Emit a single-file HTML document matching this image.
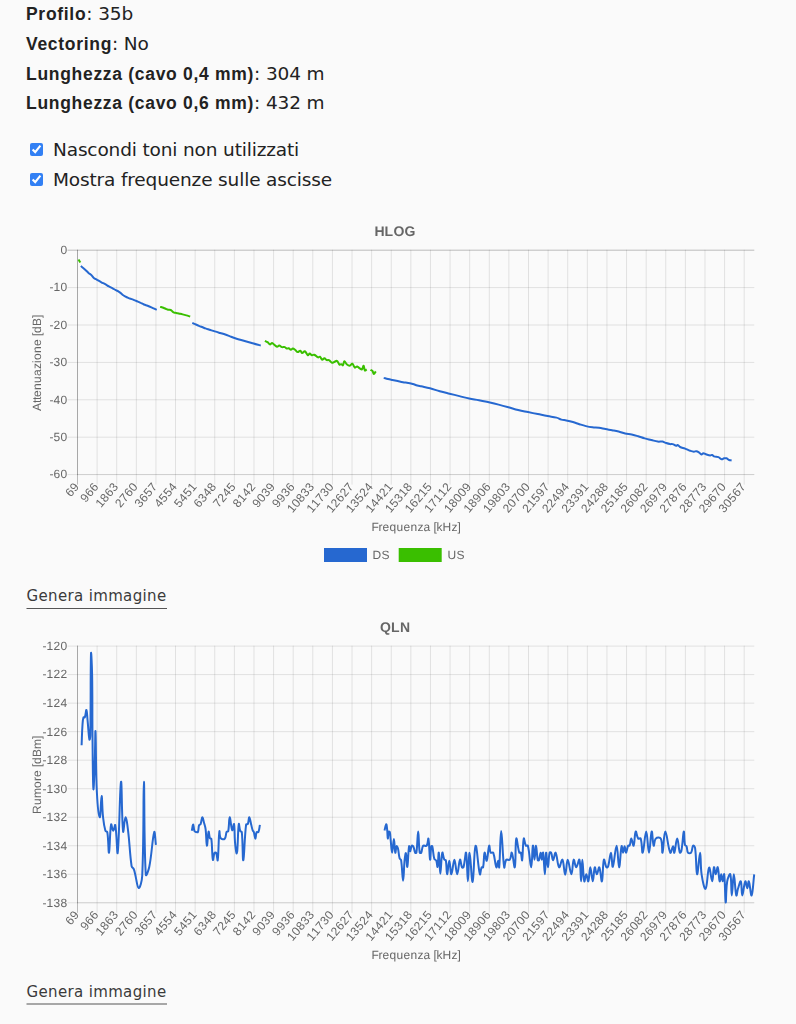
<!DOCTYPE html>
<html><head><meta charset="utf-8"><title>Statistiche linea</title>
<style>
html,body{margin:0;padding:0;background:#fafafa;}
body{width:796px;height:1024px;overflow:hidden;position:relative;color:#222;font-family:"DejaVu Sans","Liberation Sans",sans-serif;}
.ln{position:absolute;left:26px;font-size:18.5px;letter-spacing:-0.15px;line-height:18px;white-space:nowrap;}
.ln b{font-family:"Liberation Sans",sans-serif;font-size:17.5px;letter-spacing:0.7px;}
.cb{position:absolute;left:30px;margin:0;width:13px;height:13px;accent-color:#3280f4;}
.lab{position:absolute;left:53px;font-size:18.5px;letter-spacing:-0.15px;line-height:18px;white-space:nowrap;}
.gen{position:absolute;left:26.5px;font-size:15px;letter-spacing:0.35px;line-height:16px;color:#3a3a3a;white-space:nowrap;}
svg{position:absolute;left:0;top:0;will-change:transform;}
svg .t{text-rendering:geometricPrecision;font-family:"Liberation Sans",Arial,sans-serif;font-size:12px;fill:#666;}
svg .ti{text-rendering:geometricPrecision;font-family:"Liberation Sans",Arial,sans-serif;font-size:14px;font-weight:bold;fill:#666;}
</style></head><body>
<div class="ln" style="top:5px"><b>Profilo</b>: 35b</div>
<div class="ln" style="top:35.4px"><b>Vectoring</b>: No</div>
<div class="ln" style="top:64.6px"><b>Lunghezza (cavo 0,4 mm)</b>: 304 m</div>
<div class="ln" style="top:93.9px"><b>Lunghezza (cavo 0,6 mm)</b>: 432 m</div>
<input class="cb" type="checkbox" checked style="top:143px">
<div class="lab" style="top:140.8px">Nascondi toni non utilizzati</div>
<input class="cb" type="checkbox" checked style="top:173.4px">
<div class="lab" style="top:171.2px">Mostra frequenze sulle ascisse</div>
<div class="gen" style="top:588px">Genera immagine</div>
<div class="gen" style="top:983.5px">Genera immagine</div>

<svg width="796" height="1024" viewBox="0 0 796 1024">
<line x1="67.5" y1="250.2" x2="754.3" y2="250.2" stroke="rgba(0,0,0,0.25)"/>
<text x="60.50" y="254.0" class="t">0</text>
<line x1="67.5" y1="287.6" x2="754.3" y2="287.6" stroke="rgba(0,0,0,0.1)"/>
<text x="49.50 53.50 60.50" y="291.4" class="t">-10</text>
<line x1="67.5" y1="325.0" x2="754.3" y2="325.0" stroke="rgba(0,0,0,0.1)"/>
<text x="49.50 53.50 60.50" y="328.8" class="t">-20</text>
<line x1="67.5" y1="362.4" x2="754.3" y2="362.4" stroke="rgba(0,0,0,0.1)"/>
<text x="49.50 53.50 60.50" y="366.2" class="t">-30</text>
<line x1="67.5" y1="399.8" x2="754.3" y2="399.8" stroke="rgba(0,0,0,0.1)"/>
<text x="49.50 53.50 60.50" y="403.6" class="t">-40</text>
<line x1="67.5" y1="437.2" x2="754.3" y2="437.2" stroke="rgba(0,0,0,0.1)"/>
<text x="49.50 53.50 60.50" y="441.0" class="t">-50</text>
<line x1="67.5" y1="474.6" x2="754.3" y2="474.6" stroke="rgba(0,0,0,0.1)"/>
<text x="49.50 53.50 60.50" y="478.4" class="t">-60</text>
<line x1="77.5" y1="249.7" x2="77.5" y2="484.6" stroke="rgba(0,0,0,0.25)"/>
<text class="t" x="-14.00 -7.00" y="4.2" transform="translate(76.5,484.1) rotate(-50)">69</text>
<line x1="97.11" y1="249.7" x2="97.11" y2="484.6" stroke="rgba(0,0,0,0.1)"/>
<text class="t" x="-21.00 -14.00 -7.00" y="4.2" transform="translate(96.1,484.1) rotate(-50)">966</text>
<line x1="116.72" y1="249.7" x2="116.72" y2="484.6" stroke="rgba(0,0,0,0.1)"/>
<text class="t" x="-28.00 -21.00 -14.00 -7.00" y="4.2" transform="translate(115.7,484.1) rotate(-50)">1863</text>
<line x1="136.33" y1="249.7" x2="136.33" y2="484.6" stroke="rgba(0,0,0,0.1)"/>
<text class="t" x="-28.00 -21.00 -14.00 -7.00" y="4.2" transform="translate(135.3,484.1) rotate(-50)">2760</text>
<line x1="155.94" y1="249.7" x2="155.94" y2="484.6" stroke="rgba(0,0,0,0.1)"/>
<text class="t" x="-28.00 -21.00 -14.00 -7.00" y="4.2" transform="translate(154.9,484.1) rotate(-50)">3657</text>
<line x1="175.54" y1="249.7" x2="175.54" y2="484.6" stroke="rgba(0,0,0,0.1)"/>
<text class="t" x="-28.00 -21.00 -14.00 -7.00" y="4.2" transform="translate(174.5,484.1) rotate(-50)">4554</text>
<line x1="195.15" y1="249.7" x2="195.15" y2="484.6" stroke="rgba(0,0,0,0.1)"/>
<text class="t" x="-28.00 -21.00 -14.00 -7.00" y="4.2" transform="translate(194.2,484.1) rotate(-50)">5451</text>
<line x1="214.76" y1="249.7" x2="214.76" y2="484.6" stroke="rgba(0,0,0,0.1)"/>
<text class="t" x="-28.00 -21.00 -14.00 -7.00" y="4.2" transform="translate(213.8,484.1) rotate(-50)">6348</text>
<line x1="234.37" y1="249.7" x2="234.37" y2="484.6" stroke="rgba(0,0,0,0.1)"/>
<text class="t" x="-28.00 -21.00 -14.00 -7.00" y="4.2" transform="translate(233.4,484.1) rotate(-50)">7245</text>
<line x1="253.98" y1="249.7" x2="253.98" y2="484.6" stroke="rgba(0,0,0,0.1)"/>
<text class="t" x="-28.00 -21.00 -14.00 -7.00" y="4.2" transform="translate(253.0,484.1) rotate(-50)">8142</text>
<line x1="273.59" y1="249.7" x2="273.59" y2="484.6" stroke="rgba(0,0,0,0.1)"/>
<text class="t" x="-28.00 -21.00 -14.00 -7.00" y="4.2" transform="translate(272.6,484.1) rotate(-50)">9039</text>
<line x1="293.2" y1="249.7" x2="293.2" y2="484.6" stroke="rgba(0,0,0,0.1)"/>
<text class="t" x="-28.00 -21.00 -14.00 -7.00" y="4.2" transform="translate(292.2,484.1) rotate(-50)">9936</text>
<line x1="312.81" y1="249.7" x2="312.81" y2="484.6" stroke="rgba(0,0,0,0.1)"/>
<text class="t" x="-35.00 -28.00 -21.00 -14.00 -7.00" y="4.2" transform="translate(311.8,484.1) rotate(-50)">10833</text>
<line x1="332.41" y1="249.7" x2="332.41" y2="484.6" stroke="rgba(0,0,0,0.1)"/>
<text class="t" x="-35.00 -28.00 -21.00 -14.00 -7.00" y="4.2" transform="translate(331.4,484.1) rotate(-50)">11730</text>
<line x1="352.02" y1="249.7" x2="352.02" y2="484.6" stroke="rgba(0,0,0,0.1)"/>
<text class="t" x="-35.00 -28.00 -21.00 -14.00 -7.00" y="4.2" transform="translate(351.0,484.1) rotate(-50)">12627</text>
<line x1="371.63" y1="249.7" x2="371.63" y2="484.6" stroke="rgba(0,0,0,0.1)"/>
<text class="t" x="-35.00 -28.00 -21.00 -14.00 -7.00" y="4.2" transform="translate(370.6,484.1) rotate(-50)">13524</text>
<line x1="391.24" y1="249.7" x2="391.24" y2="484.6" stroke="rgba(0,0,0,0.1)"/>
<text class="t" x="-35.00 -28.00 -21.00 -14.00 -7.00" y="4.2" transform="translate(390.2,484.1) rotate(-50)">14421</text>
<line x1="410.85" y1="249.7" x2="410.85" y2="484.6" stroke="rgba(0,0,0,0.1)"/>
<text class="t" x="-35.00 -28.00 -21.00 -14.00 -7.00" y="4.2" transform="translate(409.9,484.1) rotate(-50)">15318</text>
<line x1="430.46" y1="249.7" x2="430.46" y2="484.6" stroke="rgba(0,0,0,0.1)"/>
<text class="t" x="-35.00 -28.00 -21.00 -14.00 -7.00" y="4.2" transform="translate(429.5,484.1) rotate(-50)">16215</text>
<line x1="450.07" y1="249.7" x2="450.07" y2="484.6" stroke="rgba(0,0,0,0.1)"/>
<text class="t" x="-35.00 -28.00 -21.00 -14.00 -7.00" y="4.2" transform="translate(449.1,484.1) rotate(-50)">17112</text>
<line x1="469.68" y1="249.7" x2="469.68" y2="484.6" stroke="rgba(0,0,0,0.1)"/>
<text class="t" x="-35.00 -28.00 -21.00 -14.00 -7.00" y="4.2" transform="translate(468.7,484.1) rotate(-50)">18009</text>
<line x1="489.29" y1="249.7" x2="489.29" y2="484.6" stroke="rgba(0,0,0,0.1)"/>
<text class="t" x="-35.00 -28.00 -21.00 -14.00 -7.00" y="4.2" transform="translate(488.3,484.1) rotate(-50)">18906</text>
<line x1="508.89" y1="249.7" x2="508.89" y2="484.6" stroke="rgba(0,0,0,0.1)"/>
<text class="t" x="-35.00 -28.00 -21.00 -14.00 -7.00" y="4.2" transform="translate(507.9,484.1) rotate(-50)">19803</text>
<line x1="528.5" y1="249.7" x2="528.5" y2="484.6" stroke="rgba(0,0,0,0.1)"/>
<text class="t" x="-35.00 -28.00 -21.00 -14.00 -7.00" y="4.2" transform="translate(527.5,484.1) rotate(-50)">20700</text>
<line x1="548.11" y1="249.7" x2="548.11" y2="484.6" stroke="rgba(0,0,0,0.1)"/>
<text class="t" x="-35.00 -28.00 -21.00 -14.00 -7.00" y="4.2" transform="translate(547.1,484.1) rotate(-50)">21597</text>
<line x1="567.72" y1="249.7" x2="567.72" y2="484.6" stroke="rgba(0,0,0,0.1)"/>
<text class="t" x="-35.00 -28.00 -21.00 -14.00 -7.00" y="4.2" transform="translate(566.7,484.1) rotate(-50)">22494</text>
<line x1="587.33" y1="249.7" x2="587.33" y2="484.6" stroke="rgba(0,0,0,0.1)"/>
<text class="t" x="-35.00 -28.00 -21.00 -14.00 -7.00" y="4.2" transform="translate(586.3,484.1) rotate(-50)">23391</text>
<line x1="606.94" y1="249.7" x2="606.94" y2="484.6" stroke="rgba(0,0,0,0.1)"/>
<text class="t" x="-35.00 -28.00 -21.00 -14.00 -7.00" y="4.2" transform="translate(605.9,484.1) rotate(-50)">24288</text>
<line x1="626.55" y1="249.7" x2="626.55" y2="484.6" stroke="rgba(0,0,0,0.1)"/>
<text class="t" x="-35.00 -28.00 -21.00 -14.00 -7.00" y="4.2" transform="translate(625.5,484.1) rotate(-50)">25185</text>
<line x1="646.16" y1="249.7" x2="646.16" y2="484.6" stroke="rgba(0,0,0,0.1)"/>
<text class="t" x="-35.00 -28.00 -21.00 -14.00 -7.00" y="4.2" transform="translate(645.2,484.1) rotate(-50)">26082</text>
<line x1="665.76" y1="249.7" x2="665.76" y2="484.6" stroke="rgba(0,0,0,0.1)"/>
<text class="t" x="-35.00 -28.00 -21.00 -14.00 -7.00" y="4.2" transform="translate(664.8,484.1) rotate(-50)">26979</text>
<line x1="685.37" y1="249.7" x2="685.37" y2="484.6" stroke="rgba(0,0,0,0.1)"/>
<text class="t" x="-35.00 -28.00 -21.00 -14.00 -7.00" y="4.2" transform="translate(684.4,484.1) rotate(-50)">27876</text>
<line x1="704.98" y1="249.7" x2="704.98" y2="484.6" stroke="rgba(0,0,0,0.1)"/>
<text class="t" x="-35.00 -28.00 -21.00 -14.00 -7.00" y="4.2" transform="translate(704.0,484.1) rotate(-50)">28773</text>
<line x1="724.59" y1="249.7" x2="724.59" y2="484.6" stroke="rgba(0,0,0,0.1)"/>
<text class="t" x="-35.00 -28.00 -21.00 -14.00 -7.00" y="4.2" transform="translate(723.6,484.1) rotate(-50)">29670</text>
<line x1="744.2" y1="249.7" x2="744.2" y2="484.6" stroke="rgba(0,0,0,0.1)"/>
<text class="t" x="-35.00 -28.00 -21.00 -14.00 -7.00" y="4.2" transform="translate(743.2,484.1) rotate(-50)">30567</text>
<line x1="77.5" y1="249.7" x2="77.5" y2="475.1" stroke="rgba(0,0,0,0.1)"/>
<line x1="77.0" y1="474.6" x2="754.3" y2="474.6" stroke="rgba(0,0,0,0.1)"/>
<text x="374.60 384.60 393.60 404.60" y="235.7" class="ti">HLOG</text>
<text class="t" x="-48.00 -40.00 -37.00 -34.00 -27.00 -20.00 -13.00 -6.00 0.00 3.00 10.00 17.00 24.00 27.00 30.00 37.00 45.00" y="0" transform="translate(40.8,362.9) rotate(-90)">Attenuazione [dB]</text>
<text class="t" x="371.40 378.40 382.40 389.40 396.40 403.40 410.40 417.40 423.40 430.40 433.40 436.40 442.40 451.40 457.40" y="531.4">Frequenza [kHz]</text>
<path d="M78.50,259.40 L80.30,262.50" fill="none" stroke="#3abf00" stroke-width="2" stroke-linejoin="round" stroke-linecap="butt"/>
<path d="M80.80,266.00 C81.76,266.76 82.27,267.11 83.20,267.90 C84.35,268.87 84.91,269.37 86.00,270.40 C87.03,271.37 87.44,271.96 88.50,272.90 C89.56,273.84 90.27,274.13 91.30,275.10 C92.39,276.13 92.66,276.96 93.80,277.90 C94.94,278.84 95.71,279.05 97.00,279.80 C98.75,280.81 99.62,281.34 101.40,282.30 C102.90,283.10 103.71,283.39 105.20,284.20 C106.71,285.03 107.39,285.57 108.90,286.40 C110.39,287.21 111.21,287.48 112.70,288.30 C113.97,289.00 114.53,289.50 115.80,290.20 C116.77,290.74 117.34,290.85 118.30,291.40 C119.22,291.93 119.66,292.24 120.50,292.90 C121.34,293.56 121.64,294.05 122.50,294.70 C123.44,295.41 123.97,295.72 125.00,296.30 C126.25,297.00 126.88,297.36 128.20,297.90 C129.92,298.60 130.86,298.74 132.60,299.40 C134.10,299.98 134.82,300.37 136.30,301.00 C137.82,301.65 138.60,301.91 140.10,302.60 C141.64,303.31 142.33,303.85 143.90,304.50 C145.33,305.09 146.14,305.16 147.60,305.70 C149.14,306.28 149.90,306.62 151.40,307.30 C153.54,308.26 154.58,308.80 156.70,309.80" fill="none" stroke="#2668d0" stroke-width="2" stroke-linejoin="round" stroke-linecap="butt"/>
<path d="M160.10,306.90 C161.06,307.14 161.57,307.18 162.50,307.50 C163.81,307.94 164.41,308.30 165.70,308.80 C166.69,309.18 167.17,309.45 168.20,309.70 C169.17,309.93 169.81,309.62 170.70,310.00 C171.57,310.38 171.81,311.00 172.60,311.60 C173.17,312.04 173.44,312.37 174.10,312.60 C174.92,312.89 175.43,312.73 176.30,312.90 C177.31,313.09 177.80,313.26 178.80,313.50 C180.32,313.86 181.08,314.02 182.60,314.40 C184.12,314.78 184.89,314.98 186.40,315.40 C187.93,315.82 188.68,316.06 190.20,316.50" fill="none" stroke="#3abf00" stroke-width="2" stroke-linejoin="round" stroke-linecap="butt"/>
<path d="M192.30,322.90 C193.46,323.42 194.04,323.69 195.20,324.20 C196.68,324.85 197.41,325.18 198.90,325.80 C200.41,326.42 201.18,326.70 202.70,327.30 C203.82,327.74 204.37,328.00 205.50,328.40 C207.09,328.96 207.90,329.18 209.50,329.70 C211.62,330.38 212.67,330.74 214.80,331.40 C216.91,332.06 217.98,332.37 220.10,333.00 C222.18,333.61 223.25,333.80 225.30,334.50 C227.45,335.24 228.47,335.80 230.60,336.60 C232.71,337.40 233.76,337.81 235.90,338.50 C238.00,339.17 239.08,339.39 241.20,340.00 C243.28,340.59 244.32,340.91 246.40,341.50 C248.52,342.11 249.58,342.40 251.70,343.00 C253.82,343.60 254.88,343.92 257.00,344.50 C258.52,344.92 259.28,345.10 260.80,345.50" fill="none" stroke="#2668d0" stroke-width="2" stroke-linejoin="round" stroke-linecap="butt"/>
<path d="M264.90,340.90 C265.94,341.42 266.54,341.56 267.50,342.20 C268.66,342.96 269.11,344.23 270.20,344.40 C270.95,344.51 271.35,342.83 272.10,342.90 C272.99,342.99 273.38,344.09 274.30,344.80 C275.34,345.61 275.88,346.52 277.00,346.70 C277.84,346.84 278.33,345.53 279.20,345.60 C280.29,345.69 280.74,346.80 281.90,347.10 C283.02,347.40 283.82,346.77 284.90,347.10 C285.78,347.37 285.96,348.35 286.80,348.60 C287.44,348.79 287.94,348.02 288.60,348.20 C289.58,348.46 289.97,349.61 290.90,349.70 C291.65,349.77 292.04,348.53 292.80,348.60 C293.84,348.69 294.42,349.42 295.40,350.10 C296.38,350.78 296.70,351.86 297.70,352.00 C298.66,352.14 299.42,350.58 300.30,350.80 C301.22,351.02 301.33,353.02 302.20,353.10 C303.13,353.18 303.92,350.86 304.80,351.20 C306.20,351.74 306.59,354.68 307.90,355.30 C308.55,355.60 308.94,353.50 309.70,353.50 C310.58,353.50 310.99,355.04 312.00,355.30 C312.83,355.52 313.48,354.41 314.30,354.70 C315.88,355.25 316.45,356.85 318.00,357.40 C318.69,357.65 319.31,356.38 319.90,356.70 C320.99,357.30 321.14,359.35 322.20,359.70 C322.94,359.95 323.55,358.12 324.40,358.20 C325.35,358.28 325.66,359.66 326.70,360.10 C327.46,360.42 328.15,359.73 328.90,360.10 C330.27,360.77 330.65,362.22 332.00,362.70 C332.77,362.98 333.34,362.33 334.20,362.00 C335.30,361.57 336.07,360.39 336.90,360.80 C338.19,361.43 338.23,363.64 339.50,364.60 C340.03,365.00 340.71,364.06 341.40,364.20 C342.07,364.34 342.54,365.66 342.90,365.30 C343.74,364.46 343.59,361.44 344.40,361.20 C345.11,361.00 345.58,363.25 346.70,364.20 C347.70,365.05 348.56,365.78 349.70,365.70 C350.80,365.62 351.44,363.49 352.30,363.80 C353.52,364.25 353.64,366.90 354.90,367.60 C355.60,367.98 356.33,366.36 357.20,366.50 C358.29,366.68 358.71,367.73 359.80,368.40 C360.59,368.89 361.35,369.79 361.90,369.40 C362.87,368.71 363.06,365.50 363.60,365.70 C364.26,365.94 364.04,369.50 364.90,370.50 C365.28,370.94 365.98,369.78 366.70,369.30" fill="none" stroke="#3abf00" stroke-width="2" stroke-linejoin="round" stroke-linecap="butt"/>
<path d="M370.50,369.80 C371.26,370.24 371.86,370.25 372.40,370.90 C373.22,371.89 373.21,373.82 373.90,373.90 C374.57,373.98 375.04,372.34 375.80,371.30" fill="none" stroke="#3abf00" stroke-width="2" stroke-linejoin="round" stroke-linecap="butt"/>
<path d="M383.70,377.90 C385.38,378.34 386.21,378.59 387.90,379.00 C389.69,379.43 390.60,379.61 392.40,380.00 C394.52,380.45 395.58,380.66 397.70,381.10 C399.82,381.54 400.87,381.81 403.00,382.20 C405.07,382.57 406.13,382.62 408.20,383.00 C410.05,383.34 410.99,383.50 412.80,384.00 C414.63,384.50 415.47,384.99 417.30,385.50 C418.79,385.91 419.58,385.97 421.10,386.30 C424.66,387.09 426.47,387.38 430.00,388.30 C433.95,389.34 435.86,390.11 439.80,391.20 C443.70,392.27 445.68,392.72 449.60,393.70 C453.52,394.68 455.48,395.12 459.40,396.10 C463.32,397.08 465.24,397.77 469.20,398.60 C473.08,399.41 475.10,399.46 479.00,400.20 C482.94,400.94 484.89,401.42 488.80,402.30 C492.73,403.18 494.69,403.62 498.60,404.60 C502.53,405.58 504.49,406.12 508.40,407.20 C512.33,408.28 514.25,409.01 518.20,410.00 C522.09,410.97 524.08,411.28 528.00,412.10 C531.92,412.92 533.88,413.30 537.80,414.10 C541.72,414.90 543.67,415.36 547.60,416.10 C551.15,416.76 553.02,416.72 556.50,417.60 C558.54,418.12 559.38,419.02 561.40,419.60 C563.30,420.14 564.36,419.99 566.30,420.40 C568.96,420.95 570.29,421.24 572.90,422.00 C575.53,422.76 576.78,423.37 579.40,424.20 C581.98,425.01 583.27,425.48 585.90,426.10 C588.51,426.72 589.84,426.96 592.50,427.30 C595.08,427.64 596.42,427.44 599.00,427.80 C601.62,428.16 602.89,428.62 605.50,429.10 C608.13,429.58 609.47,429.72 612.10,430.20 C614.71,430.68 616.03,430.85 618.60,431.50 C621.23,432.17 622.46,432.87 625.10,433.50 C627.70,434.11 629.09,434.04 631.70,434.60 C634.33,435.16 635.62,435.55 638.20,436.30 C640.82,437.07 642.07,437.66 644.70,438.40 C647.31,439.14 648.66,439.36 651.30,440.00 C653.90,440.64 655.17,441.22 657.80,441.60 C659.65,441.86 660.67,441.35 662.50,441.60 C663.55,441.75 663.98,442.26 665.00,442.60 C666.98,443.26 667.97,443.70 670.00,444.10 C671.01,444.30 671.62,443.84 672.60,444.10 C674.14,444.52 674.86,445.57 676.30,445.80 C676.86,445.89 677.10,444.74 677.60,444.90 C678.62,445.22 678.95,446.43 680.10,447.00 C681.95,447.91 683.14,447.86 685.10,448.60 C687.18,449.38 688.11,450.06 690.20,450.80 C691.63,451.30 692.41,451.60 693.90,451.70 C694.89,451.76 695.44,451.07 696.40,451.20 C697.44,451.35 697.97,451.80 698.90,452.40 C700.01,453.12 700.43,454.28 701.50,454.50 C702.19,454.64 702.52,453.30 703.30,453.30 C704.52,453.30 705.19,454.11 706.50,454.50 C707.99,454.95 708.78,455.29 710.30,455.40 C711.02,455.45 711.46,454.73 712.10,454.90 C712.94,455.13 713.11,456.09 714.00,456.40 C715.63,456.97 716.76,456.50 718.40,457.10 C719.80,457.62 720.25,458.92 721.60,459.20 C722.53,459.40 723.07,458.49 724.10,458.30 C725.07,458.13 725.69,457.99 726.60,458.30 C727.69,458.67 728.01,459.52 729.10,460.00 C730.01,460.40 730.60,460.30 731.60,460.50" fill="none" stroke="#2668d0" stroke-width="2" stroke-linejoin="round" stroke-linecap="butt"/>

<rect x="325.5" y="549.5" width="40" height="11" fill="#2668d0" stroke="#2668d0" stroke-width="3"/>
<text class="t" x="372.60 381.60" y="558.8">DS</text>
<rect x="400.2" y="549.5" width="40" height="11" fill="#3abf00" stroke="#3abf00" stroke-width="3"/>
<text class="t" x="447.40 456.40" y="558.8">US</text>

<line x1="26.5" y1="608.5" x2="167" y2="608.5" stroke="#555"/>
<line x1="26.5" y1="1004" x2="167" y2="1004" stroke="#555"/>
<line x1="67.5" y1="646.1" x2="754.3" y2="646.1" stroke="rgba(0,0,0,0.1)"/>
<text x="42.50 46.50 53.50 60.50" y="649.9" class="t">-120</text>
<line x1="67.5" y1="674.62" x2="754.3" y2="674.62" stroke="rgba(0,0,0,0.1)"/>
<text x="42.50 46.50 53.50 60.50" y="678.4" class="t">-122</text>
<line x1="67.5" y1="703.14" x2="754.3" y2="703.14" stroke="rgba(0,0,0,0.1)"/>
<text x="42.50 46.50 53.50 60.50" y="706.9" class="t">-124</text>
<line x1="67.5" y1="731.67" x2="754.3" y2="731.67" stroke="rgba(0,0,0,0.1)"/>
<text x="42.50 46.50 53.50 60.50" y="735.5" class="t">-126</text>
<line x1="67.5" y1="760.19" x2="754.3" y2="760.19" stroke="rgba(0,0,0,0.1)"/>
<text x="42.50 46.50 53.50 60.50" y="764.0" class="t">-128</text>
<line x1="67.5" y1="788.71" x2="754.3" y2="788.71" stroke="rgba(0,0,0,0.1)"/>
<text x="42.50 46.50 53.50 60.50" y="792.5" class="t">-130</text>
<line x1="67.5" y1="817.23" x2="754.3" y2="817.23" stroke="rgba(0,0,0,0.1)"/>
<text x="42.50 46.50 53.50 60.50" y="821.0" class="t">-132</text>
<line x1="67.5" y1="845.76" x2="754.3" y2="845.76" stroke="rgba(0,0,0,0.1)"/>
<text x="42.50 46.50 53.50 60.50" y="849.6" class="t">-134</text>
<line x1="67.5" y1="874.28" x2="754.3" y2="874.28" stroke="rgba(0,0,0,0.1)"/>
<text x="42.50 46.50 53.50 60.50" y="878.1" class="t">-136</text>
<line x1="67.5" y1="902.8" x2="754.3" y2="902.8" stroke="rgba(0,0,0,0.1)"/>
<text x="42.50 46.50 53.50 60.50" y="906.6" class="t">-138</text>
<line x1="77.5" y1="645.6" x2="77.5" y2="912.8" stroke="rgba(0,0,0,0.25)"/>
<text class="t" x="-14.00 -7.00" y="4.2" transform="translate(76.5,912.3) rotate(-50)">69</text>
<line x1="97.11" y1="645.6" x2="97.11" y2="912.8" stroke="rgba(0,0,0,0.1)"/>
<text class="t" x="-21.00 -14.00 -7.00" y="4.2" transform="translate(96.1,912.3) rotate(-50)">966</text>
<line x1="116.72" y1="645.6" x2="116.72" y2="912.8" stroke="rgba(0,0,0,0.1)"/>
<text class="t" x="-28.00 -21.00 -14.00 -7.00" y="4.2" transform="translate(115.7,912.3) rotate(-50)">1863</text>
<line x1="136.33" y1="645.6" x2="136.33" y2="912.8" stroke="rgba(0,0,0,0.1)"/>
<text class="t" x="-28.00 -21.00 -14.00 -7.00" y="4.2" transform="translate(135.3,912.3) rotate(-50)">2760</text>
<line x1="155.94" y1="645.6" x2="155.94" y2="912.8" stroke="rgba(0,0,0,0.1)"/>
<text class="t" x="-28.00 -21.00 -14.00 -7.00" y="4.2" transform="translate(154.9,912.3) rotate(-50)">3657</text>
<line x1="175.54" y1="645.6" x2="175.54" y2="912.8" stroke="rgba(0,0,0,0.1)"/>
<text class="t" x="-28.00 -21.00 -14.00 -7.00" y="4.2" transform="translate(174.5,912.3) rotate(-50)">4554</text>
<line x1="195.15" y1="645.6" x2="195.15" y2="912.8" stroke="rgba(0,0,0,0.1)"/>
<text class="t" x="-28.00 -21.00 -14.00 -7.00" y="4.2" transform="translate(194.2,912.3) rotate(-50)">5451</text>
<line x1="214.76" y1="645.6" x2="214.76" y2="912.8" stroke="rgba(0,0,0,0.1)"/>
<text class="t" x="-28.00 -21.00 -14.00 -7.00" y="4.2" transform="translate(213.8,912.3) rotate(-50)">6348</text>
<line x1="234.37" y1="645.6" x2="234.37" y2="912.8" stroke="rgba(0,0,0,0.1)"/>
<text class="t" x="-28.00 -21.00 -14.00 -7.00" y="4.2" transform="translate(233.4,912.3) rotate(-50)">7245</text>
<line x1="253.98" y1="645.6" x2="253.98" y2="912.8" stroke="rgba(0,0,0,0.1)"/>
<text class="t" x="-28.00 -21.00 -14.00 -7.00" y="4.2" transform="translate(253.0,912.3) rotate(-50)">8142</text>
<line x1="273.59" y1="645.6" x2="273.59" y2="912.8" stroke="rgba(0,0,0,0.1)"/>
<text class="t" x="-28.00 -21.00 -14.00 -7.00" y="4.2" transform="translate(272.6,912.3) rotate(-50)">9039</text>
<line x1="293.2" y1="645.6" x2="293.2" y2="912.8" stroke="rgba(0,0,0,0.1)"/>
<text class="t" x="-28.00 -21.00 -14.00 -7.00" y="4.2" transform="translate(292.2,912.3) rotate(-50)">9936</text>
<line x1="312.81" y1="645.6" x2="312.81" y2="912.8" stroke="rgba(0,0,0,0.1)"/>
<text class="t" x="-35.00 -28.00 -21.00 -14.00 -7.00" y="4.2" transform="translate(311.8,912.3) rotate(-50)">10833</text>
<line x1="332.41" y1="645.6" x2="332.41" y2="912.8" stroke="rgba(0,0,0,0.1)"/>
<text class="t" x="-35.00 -28.00 -21.00 -14.00 -7.00" y="4.2" transform="translate(331.4,912.3) rotate(-50)">11730</text>
<line x1="352.02" y1="645.6" x2="352.02" y2="912.8" stroke="rgba(0,0,0,0.1)"/>
<text class="t" x="-35.00 -28.00 -21.00 -14.00 -7.00" y="4.2" transform="translate(351.0,912.3) rotate(-50)">12627</text>
<line x1="371.63" y1="645.6" x2="371.63" y2="912.8" stroke="rgba(0,0,0,0.1)"/>
<text class="t" x="-35.00 -28.00 -21.00 -14.00 -7.00" y="4.2" transform="translate(370.6,912.3) rotate(-50)">13524</text>
<line x1="391.24" y1="645.6" x2="391.24" y2="912.8" stroke="rgba(0,0,0,0.1)"/>
<text class="t" x="-35.00 -28.00 -21.00 -14.00 -7.00" y="4.2" transform="translate(390.2,912.3) rotate(-50)">14421</text>
<line x1="410.85" y1="645.6" x2="410.85" y2="912.8" stroke="rgba(0,0,0,0.1)"/>
<text class="t" x="-35.00 -28.00 -21.00 -14.00 -7.00" y="4.2" transform="translate(409.9,912.3) rotate(-50)">15318</text>
<line x1="430.46" y1="645.6" x2="430.46" y2="912.8" stroke="rgba(0,0,0,0.1)"/>
<text class="t" x="-35.00 -28.00 -21.00 -14.00 -7.00" y="4.2" transform="translate(429.5,912.3) rotate(-50)">16215</text>
<line x1="450.07" y1="645.6" x2="450.07" y2="912.8" stroke="rgba(0,0,0,0.1)"/>
<text class="t" x="-35.00 -28.00 -21.00 -14.00 -7.00" y="4.2" transform="translate(449.1,912.3) rotate(-50)">17112</text>
<line x1="469.68" y1="645.6" x2="469.68" y2="912.8" stroke="rgba(0,0,0,0.1)"/>
<text class="t" x="-35.00 -28.00 -21.00 -14.00 -7.00" y="4.2" transform="translate(468.7,912.3) rotate(-50)">18009</text>
<line x1="489.29" y1="645.6" x2="489.29" y2="912.8" stroke="rgba(0,0,0,0.1)"/>
<text class="t" x="-35.00 -28.00 -21.00 -14.00 -7.00" y="4.2" transform="translate(488.3,912.3) rotate(-50)">18906</text>
<line x1="508.89" y1="645.6" x2="508.89" y2="912.8" stroke="rgba(0,0,0,0.1)"/>
<text class="t" x="-35.00 -28.00 -21.00 -14.00 -7.00" y="4.2" transform="translate(507.9,912.3) rotate(-50)">19803</text>
<line x1="528.5" y1="645.6" x2="528.5" y2="912.8" stroke="rgba(0,0,0,0.1)"/>
<text class="t" x="-35.00 -28.00 -21.00 -14.00 -7.00" y="4.2" transform="translate(527.5,912.3) rotate(-50)">20700</text>
<line x1="548.11" y1="645.6" x2="548.11" y2="912.8" stroke="rgba(0,0,0,0.1)"/>
<text class="t" x="-35.00 -28.00 -21.00 -14.00 -7.00" y="4.2" transform="translate(547.1,912.3) rotate(-50)">21597</text>
<line x1="567.72" y1="645.6" x2="567.72" y2="912.8" stroke="rgba(0,0,0,0.1)"/>
<text class="t" x="-35.00 -28.00 -21.00 -14.00 -7.00" y="4.2" transform="translate(566.7,912.3) rotate(-50)">22494</text>
<line x1="587.33" y1="645.6" x2="587.33" y2="912.8" stroke="rgba(0,0,0,0.1)"/>
<text class="t" x="-35.00 -28.00 -21.00 -14.00 -7.00" y="4.2" transform="translate(586.3,912.3) rotate(-50)">23391</text>
<line x1="606.94" y1="645.6" x2="606.94" y2="912.8" stroke="rgba(0,0,0,0.1)"/>
<text class="t" x="-35.00 -28.00 -21.00 -14.00 -7.00" y="4.2" transform="translate(605.9,912.3) rotate(-50)">24288</text>
<line x1="626.55" y1="645.6" x2="626.55" y2="912.8" stroke="rgba(0,0,0,0.1)"/>
<text class="t" x="-35.00 -28.00 -21.00 -14.00 -7.00" y="4.2" transform="translate(625.5,912.3) rotate(-50)">25185</text>
<line x1="646.16" y1="645.6" x2="646.16" y2="912.8" stroke="rgba(0,0,0,0.1)"/>
<text class="t" x="-35.00 -28.00 -21.00 -14.00 -7.00" y="4.2" transform="translate(645.2,912.3) rotate(-50)">26082</text>
<line x1="665.76" y1="645.6" x2="665.76" y2="912.8" stroke="rgba(0,0,0,0.1)"/>
<text class="t" x="-35.00 -28.00 -21.00 -14.00 -7.00" y="4.2" transform="translate(664.8,912.3) rotate(-50)">26979</text>
<line x1="685.37" y1="645.6" x2="685.37" y2="912.8" stroke="rgba(0,0,0,0.1)"/>
<text class="t" x="-35.00 -28.00 -21.00 -14.00 -7.00" y="4.2" transform="translate(684.4,912.3) rotate(-50)">27876</text>
<line x1="704.98" y1="645.6" x2="704.98" y2="912.8" stroke="rgba(0,0,0,0.1)"/>
<text class="t" x="-35.00 -28.00 -21.00 -14.00 -7.00" y="4.2" transform="translate(704.0,912.3) rotate(-50)">28773</text>
<line x1="724.59" y1="645.6" x2="724.59" y2="912.8" stroke="rgba(0,0,0,0.1)"/>
<text class="t" x="-35.00 -28.00 -21.00 -14.00 -7.00" y="4.2" transform="translate(723.6,912.3) rotate(-50)">29670</text>
<line x1="744.2" y1="645.6" x2="744.2" y2="912.8" stroke="rgba(0,0,0,0.1)"/>
<text class="t" x="-35.00 -28.00 -21.00 -14.00 -7.00" y="4.2" transform="translate(743.2,912.3) rotate(-50)">30567</text>
<line x1="77.5" y1="645.6" x2="77.5" y2="903.3" stroke="rgba(0,0,0,0.1)"/>
<line x1="77.0" y1="902.8" x2="754.3" y2="902.8" stroke="rgba(0,0,0,0.1)"/>
<text x="380.10 391.10 400.10" y="631.7" class="ti">QLN</text>
<text class="t" x="-39.00 -30.00 -23.00 -13.00 -6.00 -2.00 5.00 8.00 11.00 18.00 26.00 36.00" y="0" transform="translate(40.8,775.0) rotate(-90)">Rumore [dBm]</text>
<text class="t" x="371.40 378.40 382.40 389.40 396.40 403.40 410.40 417.40 423.40 430.40 433.40 436.40 442.40 451.40 457.40" y="958.9">Frequenza [kHz]</text>
<path d="M81.60,745.30 C81.96,737.10 81.94,732.98 82.50,724.80 C82.70,721.78 82.71,719.86 83.50,717.30 C83.63,716.86 84.63,717.73 84.80,717.30 C85.79,714.81 85.94,709.44 86.40,710.00 C87.06,710.80 87.17,716.42 87.60,720.70 C88.37,728.26 88.50,734.59 89.40,739.60 C89.58,740.63 90.27,737.36 90.30,735.80 C90.91,702.96 90.42,673.30 91.00,653.60 C91.14,648.66 91.95,665.95 92.10,674.20 C92.55,698.83 92.22,711.16 92.50,735.80 C92.74,757.08 92.80,782.74 93.40,789.00 C93.72,792.42 94.38,771.60 94.80,760.00 C95.22,748.64 95.23,727.47 95.50,731.60 C96.07,740.47 95.68,768.19 96.90,792.50 C97.40,802.47 98.78,816.52 99.80,817.30 C100.66,817.96 100.95,796.24 101.60,796.10 C102.23,795.96 102.11,808.44 103.00,816.60 C103.63,822.32 103.92,825.44 105.40,830.80 C105.64,831.68 107.15,831.30 107.30,832.20 C108.59,840.06 108.36,854.01 109.00,852.70 C109.88,850.89 109.74,831.48 111.10,824.40 C111.42,822.72 112.32,830.65 113.20,830.80 C114.00,830.93 114.98,823.52 115.30,825.10 C116.78,832.28 117.06,857.56 117.70,852.70 C119.34,840.28 119.73,786.89 121.00,781.90 C121.89,778.41 121.70,820.52 123.10,831.50 C123.50,834.68 124.48,817.44 125.50,817.30 C126.48,817.16 127.42,825.35 128.10,830.80 C129.86,844.87 129.57,852.22 131.60,866.10 C131.81,867.50 133.12,867.71 133.70,869.00 C134.52,870.83 134.58,871.93 135.10,873.90 C136.58,879.57 137.17,887.65 138.70,888.10 C140.01,888.49 141.95,881.01 142.20,876.00 C144.03,838.53 143.17,782.18 143.90,781.90 C144.61,781.62 143.82,843.51 145.80,874.60 C145.98,877.47 148.64,870.13 149.30,866.80 C152.00,853.17 152.27,838.61 154.20,832.20 C154.91,829.85 155.22,839.82 155.90,844.90" fill="none" stroke="#2668d0" stroke-width="2" stroke-linejoin="round" stroke-linecap="butt"/>
<path d="M191.80,830.70 C192.36,828.26 192.68,824.50 193.20,824.60 C193.76,824.70 193.58,828.86 194.50,831.20 C194.74,831.82 195.42,831.84 196.10,832.00 C196.78,832.16 197.65,832.56 197.90,832.00 C198.85,829.80 198.24,827.61 199.10,825.10 C199.32,824.45 200.34,824.74 200.60,824.10 C201.62,821.62 201.55,817.51 202.30,817.30 C202.95,817.11 203.45,820.76 204.10,823.10 C204.77,825.48 205.30,826.65 205.60,829.10 C206.42,835.69 206.25,845.14 206.90,845.70 C207.45,846.18 207.78,833.74 208.60,831.70 C208.98,830.74 209.02,835.91 209.90,838.20 C210.10,838.71 211.22,838.13 211.30,838.70 C212.42,846.77 211.92,855.59 212.90,859.80 C213.24,861.23 213.52,855.09 214.60,852.80 C214.84,852.29 215.99,852.28 216.20,852.80 C217.23,855.28 217.43,862.09 217.70,860.30 C218.71,853.53 218.43,838.53 219.40,831.40 C219.63,829.69 219.36,836.35 220.70,838.20 C221.48,839.27 223.84,839.63 224.70,838.70 C226.24,837.03 225.55,834.16 226.70,831.70 C226.95,831.16 228.08,831.79 228.20,831.20 C229.28,826.03 228.88,817.51 229.70,817.30 C230.48,817.11 231.04,828.37 232.20,830.20 C232.76,831.09 233.71,822.85 234.00,824.10 C234.83,827.65 234.38,834.98 235.00,842.20 C235.38,846.66 235.78,850.76 236.50,853.30 C236.70,854.00 237.20,851.54 237.30,850.30 C238.12,839.86 237.86,830.09 238.80,824.10 C239.06,822.45 239.33,828.64 240.30,831.20 C240.53,831.80 241.73,831.34 241.80,832.00 C242.93,842.98 242.54,861.61 243.30,860.30 C244.26,858.65 244.38,838.40 246.10,824.60 C246.18,823.92 247.54,824.69 247.80,824.10 C248.82,821.77 248.65,817.11 249.30,817.30 C250.05,817.51 250.49,821.98 251.30,825.10 C251.89,827.34 252.02,828.55 252.80,830.70 C253.02,831.31 253.60,831.38 253.80,832.00 C254.64,834.58 254.83,838.66 255.40,838.70 C255.95,838.74 255.66,834.30 256.60,832.20 C256.86,831.62 258.14,832.58 258.40,832.00 C259.46,829.66 259.30,827.74 259.90,824.90" fill="none" stroke="#2668d0" stroke-width="2" stroke-linejoin="round" stroke-linecap="butt"/>
<path d="M384.50,830.60 C385.18,828.04 385.63,824.31 386.20,824.20 C386.71,824.11 386.94,827.72 387.20,830.10 C387.58,833.48 387.45,838.27 387.80,838.60 C388.09,838.87 388.11,833.85 388.80,831.60 C388.91,831.25 389.70,831.69 389.80,832.10 C390.42,834.69 390.29,836.30 390.60,839.10 C391.21,844.54 391.44,852.70 392.10,852.70 C392.76,852.70 393.26,839.10 393.90,839.10 C394.54,839.10 394.57,850.79 395.30,852.70 C395.65,853.63 395.84,847.52 396.60,846.20 C396.88,845.72 397.67,847.29 397.90,848.20 C398.87,852.09 398.57,854.35 399.60,858.20 C399.85,859.15 400.95,859.23 401.10,860.20 C402.35,868.27 402.40,880.80 403.10,880.80 C403.80,880.80 403.77,868.41 404.60,860.20 C404.89,857.37 405.53,852.30 405.90,853.20 C406.61,854.94 406.79,867.91 407.30,866.80 C408.07,865.11 408.17,851.20 409.10,846.20 C409.33,844.96 409.71,851.29 410.20,851.20 C410.75,851.09 410.76,847.27 411.70,845.70 C411.96,845.27 412.94,845.67 413.20,846.20 C414.34,848.47 414.11,850.49 415.20,852.70 C415.39,853.09 416.34,853.15 416.40,852.70 C417.54,844.71 417.54,831.60 418.20,831.60 C418.86,831.60 418.58,844.82 419.70,852.70 C419.78,853.26 420.96,853.18 421.20,852.70 C422.36,850.38 421.71,847.59 423.20,845.70 C423.91,844.79 426.03,846.62 426.70,845.70 C428.11,843.78 428.05,837.16 428.40,838.60 C429.41,842.76 429.39,857.85 430.10,859.70 C430.55,860.89 430.48,851.23 431.30,846.20 C431.36,845.83 432.21,845.83 432.30,846.20 C433.41,850.83 432.99,853.96 434.30,858.70 C434.59,859.76 435.90,859.69 436.30,860.70 C437.18,862.93 437.19,867.78 437.50,866.80 C438.19,864.58 438.35,851.58 438.80,852.70 C439.47,854.38 439.60,873.80 440.30,873.80 C441.00,873.80 441.11,856.90 442.30,852.70 C442.71,851.26 443.15,857.24 444.30,859.70 C444.55,860.24 445.69,859.61 445.80,860.20 C446.81,865.45 446.39,874.20 447.10,874.30 C447.79,874.40 448.44,860.70 449.30,860.70 C450.16,860.70 450.42,874.49 451.40,874.30 C452.46,874.09 453.24,859.70 454.40,859.70 C455.56,859.70 456.08,874.30 457.20,874.30 C458.32,874.30 458.74,861.53 460.00,859.70 C460.66,858.73 460.82,864.75 462.00,867.30 C462.22,867.79 463.35,867.84 463.50,867.30 C464.99,862.00 465.50,850.79 466.10,852.70 C467.26,856.39 467.20,881.30 467.90,881.30 C468.60,881.30 468.67,852.60 469.60,852.70 C470.55,852.80 471.53,883.05 472.60,881.80 C473.93,880.25 473.98,847.37 475.60,845.70 C476.90,844.37 477.98,867.38 479.90,874.30 C480.38,876.02 480.54,869.62 481.60,867.30 C481.82,866.82 482.99,867.84 483.10,867.30 C484.19,862.00 483.68,854.39 484.60,852.70 C485.12,851.75 486.05,861.69 486.70,860.70 C487.89,858.89 488.11,847.88 489.20,845.70 C489.71,844.68 489.51,850.62 490.70,852.70 C491.11,853.42 492.87,851.86 493.20,852.70 C495.15,857.70 495.03,865.10 496.40,867.30 C497.03,868.30 497.63,860.70 498.20,860.70 C498.75,860.70 499.01,869.14 499.20,867.30 C500.21,857.30 500.20,831.10 501.20,831.10 C502.20,831.10 502.52,857.90 504.20,867.30 C504.56,869.34 504.75,861.81 506.30,859.70 C506.99,858.77 509.09,860.61 509.80,859.70 C511.29,857.81 511.14,851.70 511.80,852.70 C513.14,854.74 514.19,869.23 514.80,867.30 C515.99,863.59 515.10,842.49 516.30,838.60 C516.90,836.65 517.67,847.59 519.30,852.70 C519.47,853.23 520.62,852.21 520.80,852.70 C521.74,855.21 521.79,861.67 522.10,860.20 C522.99,856.03 522.67,842.92 523.80,838.60 C524.19,837.12 524.61,843.46 525.90,845.70 C526.25,846.30 527.72,844.98 527.90,845.70 C529.84,853.62 530.20,867.30 531.20,867.30 C532.20,867.30 532.10,847.54 532.90,845.70 C533.42,844.50 533.88,859.70 534.50,859.70 C535.12,859.70 535.35,845.60 536.00,845.70 C536.67,845.80 536.69,854.84 537.80,860.20 C537.89,860.64 538.85,860.61 539.00,860.20 C539.97,857.61 540.00,852.80 540.60,852.70 C541.16,852.60 541.40,859.70 541.90,859.70 C542.40,859.70 542.80,851.26 543.10,852.70 C544.00,857.10 544.30,874.30 544.90,874.30 C545.50,874.30 545.39,854.37 546.10,852.70 C546.59,851.57 547.20,867.30 547.90,867.30 C548.60,867.30 548.44,858.00 549.60,852.70 C549.72,852.16 550.87,852.21 551.10,852.70 C552.27,855.21 552.21,860.20 553.10,860.20 C554.01,860.20 554.77,851.72 555.60,852.70 C557.17,854.56 557.35,865.50 559.10,867.30 C560.07,868.30 561.54,858.65 562.40,859.70 C563.98,861.65 564.14,874.80 565.20,874.80 C566.26,874.80 566.45,859.80 567.70,859.70 C568.93,859.60 570.19,874.30 571.40,874.30 C572.59,874.30 572.45,861.52 573.70,859.70 C574.37,858.72 575.08,867.30 576.20,867.30 C577.36,867.30 578.86,858.16 579.40,859.70 C580.82,863.76 580.52,881.30 581.10,881.30 C581.68,881.30 581.66,859.70 582.30,859.70 C582.94,859.70 583.10,876.93 584.30,881.30 C584.70,882.77 585.50,874.30 586.30,874.30 C587.10,874.30 587.76,882.25 588.30,881.30 C589.36,879.45 589.40,867.30 590.30,867.30 C591.20,867.30 591.90,881.30 592.80,881.30 C593.70,881.30 593.74,869.15 594.80,867.30 C595.34,866.35 595.91,874.30 596.80,874.30 C597.71,874.30 598.60,866.34 599.30,867.30 C600.64,869.14 601.17,882.50 601.90,881.30 C603.01,879.46 602.59,863.79 603.90,859.70 C604.39,858.19 605.04,864.95 606.40,867.30 C606.68,867.79 607.81,867.41 608.00,866.80 C609.65,861.57 610.03,852.70 611.00,852.70 C611.95,852.70 611.91,867.92 612.80,866.80 C614.15,865.12 615.35,845.60 616.60,845.70 C617.87,845.80 618.09,867.20 619.10,867.30 C620.09,867.40 620.38,850.64 621.60,846.20 C621.98,844.80 622.50,852.70 623.10,852.70 C623.70,852.70 624.00,846.20 624.60,846.20 C625.20,846.20 625.43,852.80 626.10,852.70 C626.83,852.60 626.94,848.02 628.10,845.70 C628.34,845.22 629.38,846.18 629.60,845.70 C630.66,843.34 630.51,838.60 631.30,838.60 C632.11,838.60 633.00,846.66 633.60,845.70 C634.76,843.86 634.49,833.47 635.70,831.60 C636.33,830.63 636.70,836.50 638.20,838.60 C638.70,839.30 640.43,837.76 640.70,838.60 C642.23,843.40 641.82,853.82 642.70,852.70 C644.02,851.02 644.94,831.60 646.20,831.60 C647.46,831.60 647.90,852.70 649.00,852.70 C650.10,852.70 650.57,833.28 651.70,831.60 C652.45,830.48 652.62,843.86 653.70,845.70 C654.26,846.66 654.10,840.30 655.80,838.60 C656.94,837.46 660.10,837.13 660.80,838.60 C662.78,842.77 661.78,853.82 662.50,852.70 C663.58,851.02 663.75,831.60 665.30,831.60 C666.87,831.60 667.95,848.30 670.30,852.70 C671.07,854.14 672.27,846.20 673.10,846.20 C673.87,846.20 673.78,853.66 674.30,852.70 C675.42,850.62 676.08,838.60 677.20,838.60 C678.32,838.60 678.47,848.85 679.90,852.70 C680.19,853.49 681.29,851.35 681.50,850.20 C682.85,842.91 682.99,832.78 683.80,831.60 C684.39,830.74 684.05,839.98 685.00,845.10 C685.13,845.78 686.25,845.46 686.50,846.10 C687.45,848.50 686.74,850.89 688.00,852.70 C688.58,853.53 690.50,853.54 691.10,852.70 C692.54,850.70 691.98,846.88 693.10,845.60 C693.58,845.04 694.93,846.85 695.10,848.10 C696.53,858.33 696.01,873.29 697.10,874.30 C698.01,875.13 699.20,852.70 700.10,852.70 C701.00,852.70 700.30,865.78 701.60,874.30 C702.50,880.22 704.36,889.89 705.60,888.80 C707.36,887.25 707.50,869.52 709.10,867.70 C710.14,866.52 711.23,881.40 712.20,881.30 C713.19,881.20 713.08,869.05 714.00,867.20 C714.48,866.25 714.96,874.30 715.70,874.30 C716.44,874.30 717.15,866.24 717.70,867.20 C718.75,869.04 718.77,879.41 719.70,881.30 C720.17,882.25 720.60,874.30 721.20,874.30 C721.80,874.30 722.10,881.30 722.70,881.30 C723.30,881.30 723.96,872.59 724.20,874.30 C725.16,881.03 725.01,900.80 725.70,902.40 C726.21,902.80 725.85,889.55 727.20,881.30 C727.69,878.31 729.81,872.80 730.30,874.30 C731.65,878.44 731.10,895.40 731.80,895.40 C732.50,895.40 732.90,874.30 733.80,874.30 C734.70,874.30 735.02,891.24 736.30,895.40 C736.74,896.84 737.21,891.09 738.10,888.30 C739.01,885.45 740.22,880.32 740.80,881.30 C741.90,883.16 741.41,895.40 742.30,895.40 C743.21,895.40 743.97,883.19 745.30,881.30 C745.97,880.35 746.59,888.30 747.30,888.30 C747.99,888.30 748.23,880.36 748.80,881.30 C749.95,883.20 750.73,896.53 751.60,895.40 C752.89,893.73 753.16,882.74 754.20,874.30" fill="none" stroke="#2668d0" stroke-width="2" stroke-linejoin="round" stroke-linecap="butt"/>
</svg>
</body></html>
